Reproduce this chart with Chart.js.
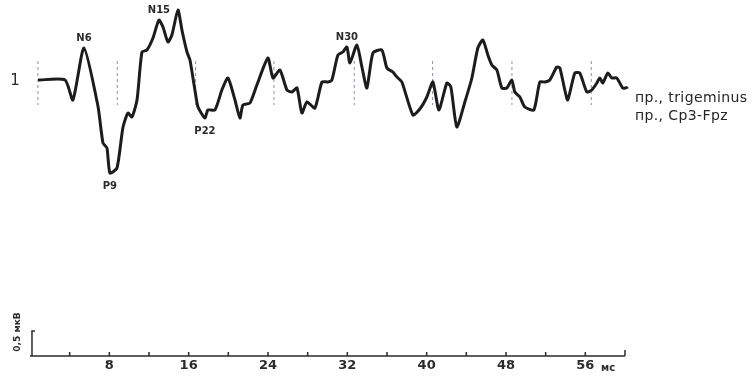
<!DOCTYPE html>
<html>
<head>
<meta charset="utf-8">
<script src="https://cdn.jsdelivr.net/npm/chart.js@4"></script>
<style>
  body { margin: 0; background: #fff; }
  canvas { display: block; }
</style>
</head>
<body>
<canvas id="grafico" width="755" height="378"></canvas>
<script>
// tempo (ms) e amplitude (mkV, negativo para cima como no original)
var tempos = [0.81, 3.53, 4.33, 5.44, 6.85, 7.36, 7.76, 8.06, 8.77, 9.38, 9.88, 10.28, 10.79, 11.29, 11.79,
  12.40, 13.00, 13.41, 13.91, 14.31, 14.92, 15.32, 15.83, 16.13, 16.63, 16.94, 17.64, 17.94, 18.65, 19.35,
  19.96, 20.67, 21.17, 21.47, 22.18, 22.88, 23.99, 24.50, 25.20, 25.91, 26.41, 26.92, 27.42, 27.92, 28.73,
  29.44, 30.04, 30.44, 31.05, 31.55, 31.96, 32.26, 32.96, 33.47, 33.97, 34.58, 35.48, 35.99, 36.59, 37.00,
  37.50, 38.61, 39.31, 40.02, 40.63, 41.23, 42.04, 42.44, 43.04, 43.85, 44.56, 45.16, 45.67, 46.17, 46.57,
  47.08, 47.58, 48.08, 48.59, 48.89, 49.40, 49.90, 50.81, 51.41, 51.92, 52.42, 53.12, 53.43, 53.93, 54.23,
  54.94, 55.44, 56.15, 56.65, 57.16, 57.46, 57.76, 58.27, 58.67, 59.17, 59.78, 60.28, 60.69, 60.79];
var amplitudes = [0, 0, -0.4, 0.64, -0.52, -1.26, -1.36, -1.86, -1.76, -0.94, -0.66, -0.74, -0.4, 0.56, 0.6,
  0.84, 1.2, 1.06, 0.76, 0.9, 1.4, 1.0, 0.56, 0.4, -0.2, -0.54, -0.76, -0.6, -0.6, -0.2,
  0.04, -0.4, -0.76, -0.5, -0.46, -0.1, 0.44, 0.04, 0.2, -0.2, -0.24, -0.16, -0.66, -0.44, -0.56,
  -0.04, -0.04, 0, 0.5, 0.56, 0.66, 0.34, 0.7, 0.26, -0.16, 0.54, 0.6, 0.24, 0.16, 0.06,
  -0.04, -0.7, -0.58, -0.34, -0.04, -0.6, -0.06, -0.14, -0.94, -0.44, 0.04, 0.64, 0.8, 0.5, 0.3,
  0.2, -0.16, -0.16, 0, -0.24, -0.34, -0.54, -0.6, -0.04, -0.04, 0, 0.26, 0.24, -0.2, -0.4,
  0.14, 0.14, -0.24, -0.2, -0.06, 0.04, -0.06, 0.14, 0.04, 0.04, -0.16, -0.14, 0, -0.16];

// picos marcados
var picosNomes = ["N6", "P9", "N15", "P22", "N30"];
var picosTempos = [5.44, 8.06, 13.00, 17.64, 31.96];
var picosAmp = [0.64, -1.86, 1.2, -0.76, 0.66];

// linhas tracejadas verticais
var marcasTempos = [0.8, 8.8, 16.7, 24.6, 32.7, 40.6, 48.6, 56.6];

// eixo do tempo
var ticksTempos = [4, 8, 12, 16, 20, 24, 28, 32, 36, 40, 44, 48, 52, 56, 60];
var ticksRotulos = ["", "8", "", "16", "", "24", "", "32", "", "40", "", "48", "", "56", ""];

var yMin = -5.52, yMax = 1.5, xMax = 60;

var onda = [];
for (var i = 0; i < tempos.length; i++) {
  onda.push({ x: tempos[i], y: amplitudes[i] });
}

var marcas = [];
for (var i = 0; i < marcasTempos.length; i++) {
  marcas.push({ x: marcasTempos[i], y: 0.38 });
  marcas.push({ x: marcasTempos[i], y: -0.5 });
  marcas.push({ x: marcasTempos[i], y: null });
}

// barra de escala 0,5 mkV
var escala = [{ x: 0.2, y: yMin }, { x: 0.2, y: yMin + 0.5 }, { x: 0.5, y: yMin + 0.5 }];

var desenhos = {
  id: "desenhos",
  afterDraw: function (chart) {
    var c = chart.ctx;
    var sx = chart.scales.x, sy = chart.scales.y;
    var base = sy.getPixelForValue(yMin);
    c.save();
    c.strokeStyle = "#2b2b2b";
    c.fillStyle = "#2b2b2b";
    c.lineWidth = 1.5;
    c.beginPath();
    c.moveTo(sx.getPixelForValue(0), base);
    c.lineTo(sx.getPixelForValue(xMax), base);
    for (var i = 0; i < ticksTempos.length; i++) {
      var px = sx.getPixelForValue(ticksTempos[i]);
      c.moveTo(px, base);
      c.lineTo(px, base - (ticksTempos[i] == xMax ? 6 : 4));
    }
    c.stroke();

    c.textAlign = "center";
    c.textBaseline = "middle";
    c.font = "bold 13px 'DejaVu Sans'";
    for (var i = 0; i < ticksTempos.length; i++) {
      if (ticksRotulos[i]) c.fillText(ticksRotulos[i], sx.getPixelForValue(ticksTempos[i]), base + 10);
    }
    c.font = "bold 10px 'DejaVu Sans'";
    c.fillText("мс", sx.getPixelForValue(58.3), base + 12);

    // picos
    c.font = "bold 10px 'DejaVu Sans'";
    for (var i = 0; i < picosNomes.length; i++) {
      var py = sy.getPixelForValue(picosAmp[i]);
      py += picosAmp[i] > 0 ? -10 : 13;
      c.fillText(picosNomes[i], sx.getPixelForValue(picosTempos[i]), py);
    }

    c.font = "15px 'DejaVu Sans'";
    c.fillText("1", 15, sy.getPixelForValue(0) + 1);

    c.textAlign = "left";
    c.font = "14px 'DejaVu Sans'";
    c.letterSpacing = "0.4px";
    c.fillStyle = "#262626";
    c.fillText("пр., trigeminus", sx.getPixelForValue(61.0), 98);
    c.fillText("пр., Cp3-Fpz", sx.getPixelForValue(61.0), 116);
    c.letterSpacing = "0px";

    // rotulo da escala
    c.fillStyle = "#2b2b2b";
    c.font = "bold 9px 'DejaVu Sans'";
    c.translate(18, sy.getPixelForValue(yMin + 0.5) + 1);
    c.rotate(-Math.PI / 2);
    c.textAlign = "center";
    c.fillText("0,5 мкВ", 0, 0);
    c.restore();
  }
};

var grafico = new Chart(document.getElementById("grafico").getContext("2d"), {
  type: "line",
  data: {
    datasets: [
      {
        data: onda,
        borderColor: "#1c1c1c",
        borderWidth: 3,
        pointRadius: 0,
        tension: 0.2,
        clip: false
      },
      {
        data: marcas,
        borderColor: "#8a93a0",
        borderWidth: 1,
        borderDash: [3, 3],
        pointRadius: 0,
        spanGaps: false,
        clip: false
      },
      {
        data: escala,
        borderColor: "#2b2b2b",
        borderWidth: 1.5,
        pointRadius: 0,
        tension: 0,
        clip: false
      }
    ]
  },
  options: {
    responsive: false,
    animation: false,
    layout: { padding: { left: 30, right: 130, top: 5, bottom: 22 } },
    plugins: { legend: { display: false }, tooltip: { enabled: false } },
    scales: {
      x: { type: "linear", min: 0, max: xMax, display: false },
      y: { min: yMin, max: yMax, display: false }
    }
  },
  plugins: [desenhos]
});
</script>
</body>
</html>
